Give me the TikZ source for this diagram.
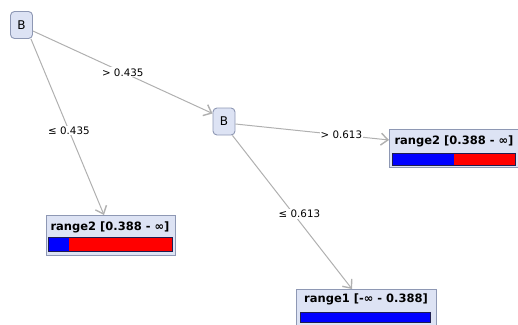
\documentclass[tikz,border=0pt]{standalone}
\usepackage{fontspec}
\setmainfont{DejaVu Sans}
\usetikzlibrary{arrows.meta,calc}
\definecolor{nodefill}{HTML}{DDE3F4}
\definecolor{nodeline}{HTML}{8E98B4}
\definecolor{edgecol}{HTML}{B0B0B0}
\definecolor{barline}{HTML}{1E1E50}
\begin{document}
\begin{tikzpicture}[x=1pt,y=-1pt,
  split/.style={draw=nodeline,fill=nodefill,rounded corners=4pt,line width=0.9pt,minimum width=22pt,minimum height=27pt,inner sep=0pt,font=\fontsize{12}{13}\selectfont},
  leafbox/.style={draw=nodeline,fill=nodefill,line width=0.8pt,inner sep=0pt,anchor=north west},
  leaftitle/.style={font=\bfseries\fontsize{11.5}{12}\selectfont,inner sep=0pt},
  edge/.style={draw=edgecol,line width=1pt,-{Straight Barb[length=7pt,width=12pt,line width=1.4pt]}},
  elabel/.style={fill=white,inner sep=1pt,font=\fontsize{10.3}{11}\selectfont},
]
\useasboundingbox (0,0) rectangle (518,324);
% split nodes
\node[split] (root) at (21.5,25) {B};
\node[split] (b2) at (224,121.5) {B};
% right leaf
\node[leafbox,minimum width=129pt,minimum height=38pt] (leafR) at (389,129) {};
\node[leaftitle] (tR) at (454,141) {range2 [0.388 - ∞]};
\fill[blue] (392,153) rectangle (454,165);
\fill[red] (454,153) rectangle (515,165);
\draw[barline,line width=0.7pt] (392,153) rectangle (515,165);
% left leaf
\node[leafbox,minimum width=129pt,minimum height=40pt] (leafL) at (46,215) {};
\node[leaftitle] (tL) at (110,227) {range2 [0.388 - ∞]};
\fill[blue] (48,237) rectangle (69,251);
\fill[red] (69,237) rectangle (172,251);
\draw[barline,line width=0.7pt] (48,237) rectangle (172,251);
% bottom leaf
\node[leafbox,minimum width=140pt,minimum height=40pt] (leafB) at (296,289) {};
\node[leaftitle] (tB) at (366,299) {range1 [-∞ - 0.388]};
\fill[blue] (300,312) rectangle (430,322);
\draw[barline,line width=0.7pt] (300,312) rectangle (430,322);
% edges
\draw[edge] ($(root.east)+(0,6)$) -- ($(b2.west)+(0,-8)$) node[elabel,pos=0.5] {> 0.435};
\draw[edge] ($(root.south east)+(-2,0)$) -- ($(leafL.north west)+(58,0)$) node[elabel,pos=0.52] {≤ 0.435};
\draw[edge] ($(b2.east)+(0,2.5)$) -- ($(leafR.north west)+(0,11)$) node[elabel,pos=0.69] {> 0.613};
\draw[edge] ($(b2.south east)+(-3,0)$) -- ($(leafB.north west)+(56,0)$) node[elabel,pos=0.51,xshift=6pt] {≤ 0.613};
\end{tikzpicture}
\end{document}
